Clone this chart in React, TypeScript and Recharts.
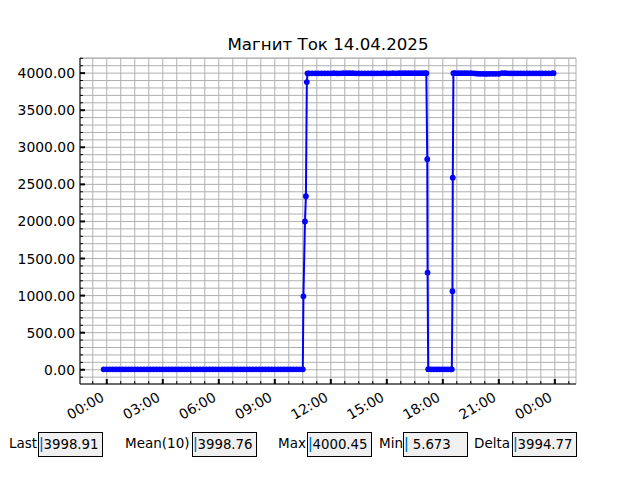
import React from "react";
import {
  LineChart,
  Line,
  XAxis,
  YAxis,
  CartesianGrid,
} from "recharts";

// Time in minutes from 00:00 on 14.04.2025, current values
const nightMinutes = [-10, 0, 10, 20, 30, 40, 50, 60, 70, 80, 90, 100, 110, 120, 130, 140, 150, 160, 170, 180, 190, 200, 210, 220, 230, 240, 250, 260, 270, 280, 290, 300, 310, 320, 330, 340, 350, 360, 370, 380, 390, 400, 410, 420, 430, 440, 450, 460, 470, 480, 490, 500, 510, 520, 530, 540, 550, 560, 570, 580, 590, 600, 610, 620, 630];
const nightValues = [
  6.2, 5.9, 6.0, 5.8, 6.1, 5.7, 6.0, 6.3, 5.9, 6.0,
  5.8, 6.1, 6.2, 5.9, 6.0, 5.7, 6.1, 6.0, 5.9, 6.2,
  6.0, 5.8, 6.1, 5.9, 6.0, 6.3, 5.9, 6.0, 5.8, 6.1,
  6.0, 5.9, 6.2, 6.0, 5.7, 6.1, 5.9, 6.0, 6.2, 5.8,
  6.0, 6.1, 5.9, 6.0, 5.8, 6.2, 6.0, 5.9, 6.1, 6.0,
  5.9, 6.2, 6.0, 5.8, 6.1, 5.9, 6.0, 6.1, 5.9, 6.0,
  6.1, 5.9, 6.0, 6.2, 5.8,
];
const rampUpMinutes = [632, 637, 640, 643];
const rampUpValues = [990, 2000, 2340, 3880];
const dayMinutes = [645, 650, 660, 670, 680, 690, 700, 710, 720, 730, 740, 750, 760, 770, 780, 790, 800, 810, 820, 830, 840, 850, 860, 870, 880, 890, 900, 910, 920, 930, 940, 950, 960, 970, 980, 990, 1000, 1010, 1020, 1027];
const dayValues = [
  3997, 3998, 3997, 3998, 3998, 3997, 3998, 3997, 3998, 3999,
  3998, 3998, 3999, 4000, 4000, 3999, 3998, 3997, 3998, 3998,
  3997, 3998, 3998, 3997, 3998, 3999, 3998, 3998, 3999, 3998,
  4000, 3999, 4000, 3999, 4000, 4000, 3999, 4000, 4000, 4000,
];
const rampDownMinutes = [1030, 1031];
const rampDownValues = [2840, 1310];
const eveningMinutes = [1033, 1042, 1051, 1060, 1069, 1078, 1087, 1096, 1105, 1109];
const eveningValues = [8.1, 6.4, 5.9, 6.0, 5.7, 6.2, 5.9, 6.1, 6.0, 5.8];
const rampUp2Minutes = [1111, 1112];
const rampUp2Values = [1060, 2590];
const lateMinutes = [1114, 1120, 1130, 1140, 1150, 1160, 1170, 1180, 1190, 1200, 1210, 1220, 1230, 1240, 1250, 1260, 1270, 1280, 1290, 1300, 1310, 1320, 1330, 1340, 1350, 1360, 1370, 1380, 1390, 1400, 1410, 1420, 1430, 1436];
const lateValues = [
  3999, 4000, 4000, 4000, 4000, 4000, 3999, 3998, 3992, 3990,
  3990, 3989, 3990, 3991, 3990, 3990, 4000.4, 4000, 3997, 3997,
  3998, 3997, 3997, 3998, 3997, 3998, 3997, 3998, 3997, 3998,
  3997, 3998, 3998, 3998.91,
];

const xMajorTicks = [0, 180, 360, 540, 720, 900, 1080, 1260, 1440];
const xMinorTicks = [-45, 0, 45, 90, 135, 180, 225, 270, 315, 360, 405, 450, 495, 540, 585, 630, 675, 720, 765, 810, 855, 900, 945, 990, 1035, 1080, 1125, 1170, 1215, 1260, 1305, 1350, 1395, 1440, 1485];
const yMajorTicks = [0, 500, 1000, 1500, 2000, 2500, 3000, 3500, 4000];
const yMinorTicks = [-100, 0, 100, 200, 300, 400, 500, 600, 700, 800, 900, 1000, 1100, 1200, 1300, 1400, 1500, 1600, 1700, 1800, 1900, 2000, 2100, 2200, 2300, 2400, 2500, 2600, 2700, 2800, 2900, 3000, 3100, 3200, 3300, 3400, 3500, 3600, 3700, 3800, 3900, 4000, 4100, 4200];

const title = "Магнит Ток 14.04.2025";
const statLabels = ["Last", "Mean(10)", "Max", "Min", "Delta"];
const statValues = ["3998.91", "3998.76", "4000.45", " 5.673", "3994.77"];
// layout of the stat row (label x, box x)
const statLabelX = [9, 125, 278, 379, 474];
const statBoxX = [38.5, 192.5, 307.5, 403.5, 512.5];

const allMinutes = [...nightMinutes, ...rampUpMinutes, ...dayMinutes, ...rampDownMinutes, ...eveningMinutes, ...rampUp2Minutes, ...lateMinutes];
const allValues = [...nightValues, ...rampUpValues, ...dayValues, ...rampDownValues, ...eveningValues, ...rampUp2Values, ...lateValues];
const data = allMinutes.map((t, i) => ({ t, v: allValues[i] }));

const FONT = "DejaVu Sans, sans-serif";

const fmtTime = (m: number) => {
  const h = ((Math.round(m / 60) % 24) + 24) % 24;
  return `${String(h).padStart(2, "0")}:00`;
};

const XTick = (props: any) => {
  const { x, y, payload } = props;
  const v = payload.value;
  const major = xMajorTicks.includes(v);
  return (
    <g>
      <line x1={x} x2={x} y1={y} y2={major ? y - 5 : y - 3} stroke="#000" strokeWidth={major ? 2 : 1} />
      {major && (
        <text
          x={x - 1.6}
          y={y + 16}
          textAnchor="end"
          fontFamily={FONT}
          fontSize={13.9}
          fill="#000"
          transform={`rotate(-30, ${x - 1.6}, ${y + 16})`}
        >
          {fmtTime(v)}
        </text>
      )}
    </g>
  );
};

const YTick = (props: any) => {
  const { x, y, payload } = props;
  const v = payload.value;
  const major = yMajorTicks.includes(v);
  return (
    <g>
      <line x1={x} x2={major ? x + 5 : x + 3} y1={y} y2={y} stroke="#000" strokeWidth={major ? 2 : 1} />
      {major && (
        <text
          x={x - 5}
          y={y}
          textAnchor="end"
          dominantBaseline="central"
          fontFamily={FONT}
          fontSize={13.9}
          fill="#000"
        >
          {v.toFixed(2)}
        </text>
      )}
    </g>
  );
};

export default function App() {
  return (
    <div style={{ position: "absolute", left: 0, top: 0, width: 640, height: 480, background: "#fff" }}>
      <LineChart
        width={640}
        height={480}
        data={data}
        margin={{ top: 58, right: 64, bottom: 56, left: 10 }}
      >
        <CartesianGrid stroke="#b0b0b0" strokeWidth={1} />
        <XAxis
          dataKey="t"
          type="number"
          domain={[-86, 1508]}
          allowDataOverflow
          ticks={xMinorTicks}
          interval={0}
          tickSize={0}
          tickMargin={0}
          height={40}
          axisLine={{ stroke: "#000", strokeWidth: 1 }}
          tickLine={false}
          tick={XTick}
        />
        <XAxis
          xAxisId="top"
          orientation="top"
          dataKey="t"
          type="number"
          domain={[-86, 1508]}
          allowDataOverflow
          height={0}
          tick={false}
          tickLine={false}
          axisLine={{ stroke: "#000", strokeWidth: 1 }}
        />
        <YAxis
          type="number"
          domain={[-192, 4204]}
          allowDataOverflow
          ticks={yMinorTicks}
          interval={0}
          tickSize={0}
          tickMargin={0}
          width={70}
          axisLine={{ stroke: "#000", strokeWidth: 1 }}
          tickLine={false}
          tick={YTick}
        />
        <YAxis
          yAxisId="right"
          orientation="right"
          type="number"
          domain={[-192, 4204]}
          allowDataOverflow
          width={0}
          tick={false}
          tickLine={false}
          axisLine={{ stroke: "#000", strokeWidth: 1 }}
        />
        <Line
          type="linear"
          dataKey="v"
          stroke="#0000ff"
          strokeWidth={2}
          dot={{ r: 2.3, fill: "#0000ff", stroke: "#0000ff", strokeWidth: 1.2 }}
          activeDot={false}
          isAnimationActive={false}
        />
      </LineChart>
      <svg
        width={640}
        height={480}
        style={{ position: "absolute", left: 0, top: 0, pointerEvents: "none" }}
      >
        <text x={328} y={50} textAnchor="middle" fontFamily={FONT} fontSize={16.67} fill="#000">
          {title}
        </text>
        {statLabels.map((label, i) => (
          <g key={label}>
            <text x={statLabelX[i]} y={448} fontFamily={FONT} fontSize={13.5} fill="#000">
              {label}
            </text>
            <rect x={statBoxX[i]} y={432.5} width={64} height={24} fill="#f0f0f0" stroke="#000" strokeWidth={1} />
            <line x1={statBoxX[i] + 3} x2={statBoxX[i] + 3} y1={437} y2={452} stroke="#0078d7" strokeWidth={1.5} />
            <text
              x={statBoxX[i] + 5}
              y={449}
              fontFamily={FONT}
              fontSize={13.3}
              fill="#000"
              style={{ whiteSpace: "pre" }}
              xmlSpace="preserve"
            >
              {statValues[i]}
            </text>
          </g>
        ))}
      </svg>
    </div>
  );
}
